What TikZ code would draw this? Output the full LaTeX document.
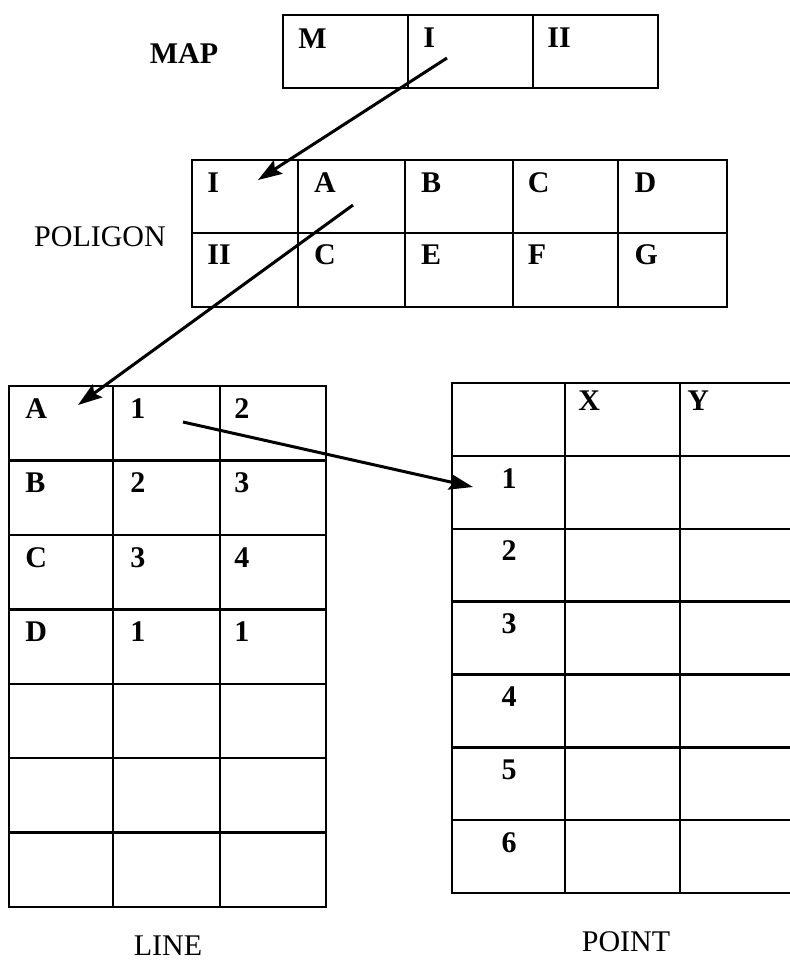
\documentclass[tikz,border=0pt]{standalone}
\usepackage{fontspec}
\setmainfont{Liberation Serif}
\usetikzlibrary{arrows.meta}

\begin{document}
\begin{tikzpicture}[x=0.5pt, y=-0.5pt,
    tab/.style={line width=1.2pt},
    cell/.style={anchor=north west, inner sep=0pt, font=\fontsize{15}{17}\selectfont\bfseries},
    num/.style={anchor=north, inner sep=0pt, font=\fontsize{15}{17}\selectfont\bfseries},
    title/.style={font=\fontsize{15}{17}\selectfont},
    link/.style={line width=1.5pt, -{Stealth[length=12pt, width=8pt, inset=2pt]}}]
    \useasboundingbox (0,0) rectangle (790,965);

    % MAP
    \draw[tab] (283,15) rectangle (658,88);
    \foreach \x in {408,533} \draw[tab] (\x,15) -- (\x,88);
    \node[title, font=\fontsize{15}{17}\selectfont\bfseries] (map) at (184,54) {MAP};
    \node[cell] (mapM) at (298,28) {M};
    \node[cell] (mapI) at (423,27) {I};
    \node[cell] (mapII) at (547,27) {II};

    % POLIGON
    \draw[tab] (192,160) rectangle (727,307);
    \foreach \x in {298,405,513,618} \draw[tab] (\x,160) -- (\x,307);
    \draw[tab] (192,233) -- (727,233);
    \node[title] (poligon) at (100,237) {POLIGON};
    \foreach \a/\b [count=\i from 0] in {I/II, A/C, B/E, C/F, D/G}
    {
        \node[cell] (pol\i a) at ({207+106.8*\i},172) {\a};
        \node[cell] (pol\i b) at ({207+106.8*\i},244) {\b};
    }

    % LINE
    \draw[tab] (9,386) rectangle (326,907);
    \foreach \x in {113,220} \draw[tab] (\x,386) -- (\x,907);
    \foreach \k in {1,...,6} \draw[tab] (9,{386+74.43*\k}) -- (326,{386+74.43*\k});
    \node[title] (line) at (168,946) {LINE};
    \foreach \r/\p/\q [count=\i from 0] in {A/1/2, B/2/3, C/3/4, D/1/1}
    {
        \node[cell] (line\r) at (25,{398+74.43*\i}) {\r};
        \node[cell] (line\r p) at (130,{398+74.43*\i}) {\p};
        \node[cell] (line\r q) at (234,{398+74.43*\i}) {\q};
    }

    % POINT
    \draw[tab] (452,383) rectangle (796,893);
    \foreach \x in {565,680} \draw[tab] (\x,383) -- (\x,893);
    \foreach \k in {1,...,6} \draw[tab] (452,{383+72.86*\k}) -- (796,{383+72.86*\k});
    \node[title] (point) at (626,942) {POINT};
    \node[cell] (ptX) at (578,390) {X};
    \node[cell] (ptY) at (687,390) {Y};
    \foreach \k in {1,...,6}
        \node[num] (pt\k) at (509,{383+72.86*\k+12}) {\k};

    % arrows
    \coordinate (mapIfrom) at (447,58);
    \coordinate (polIto) at (258,180);
    \coordinate (polAfrom) at (353,205);
    \coordinate (lineAto) at (78,405);
    \coordinate (lineAfrom) at (183,422);
    \coordinate (ptto) at (473,487);
    \draw[link] (mapIfrom) -- (polIto);
    \draw[link] (polAfrom) -- (lineAto);
    \draw[link] (lineAfrom) -- (ptto);
\end{tikzpicture}
\end{document}
